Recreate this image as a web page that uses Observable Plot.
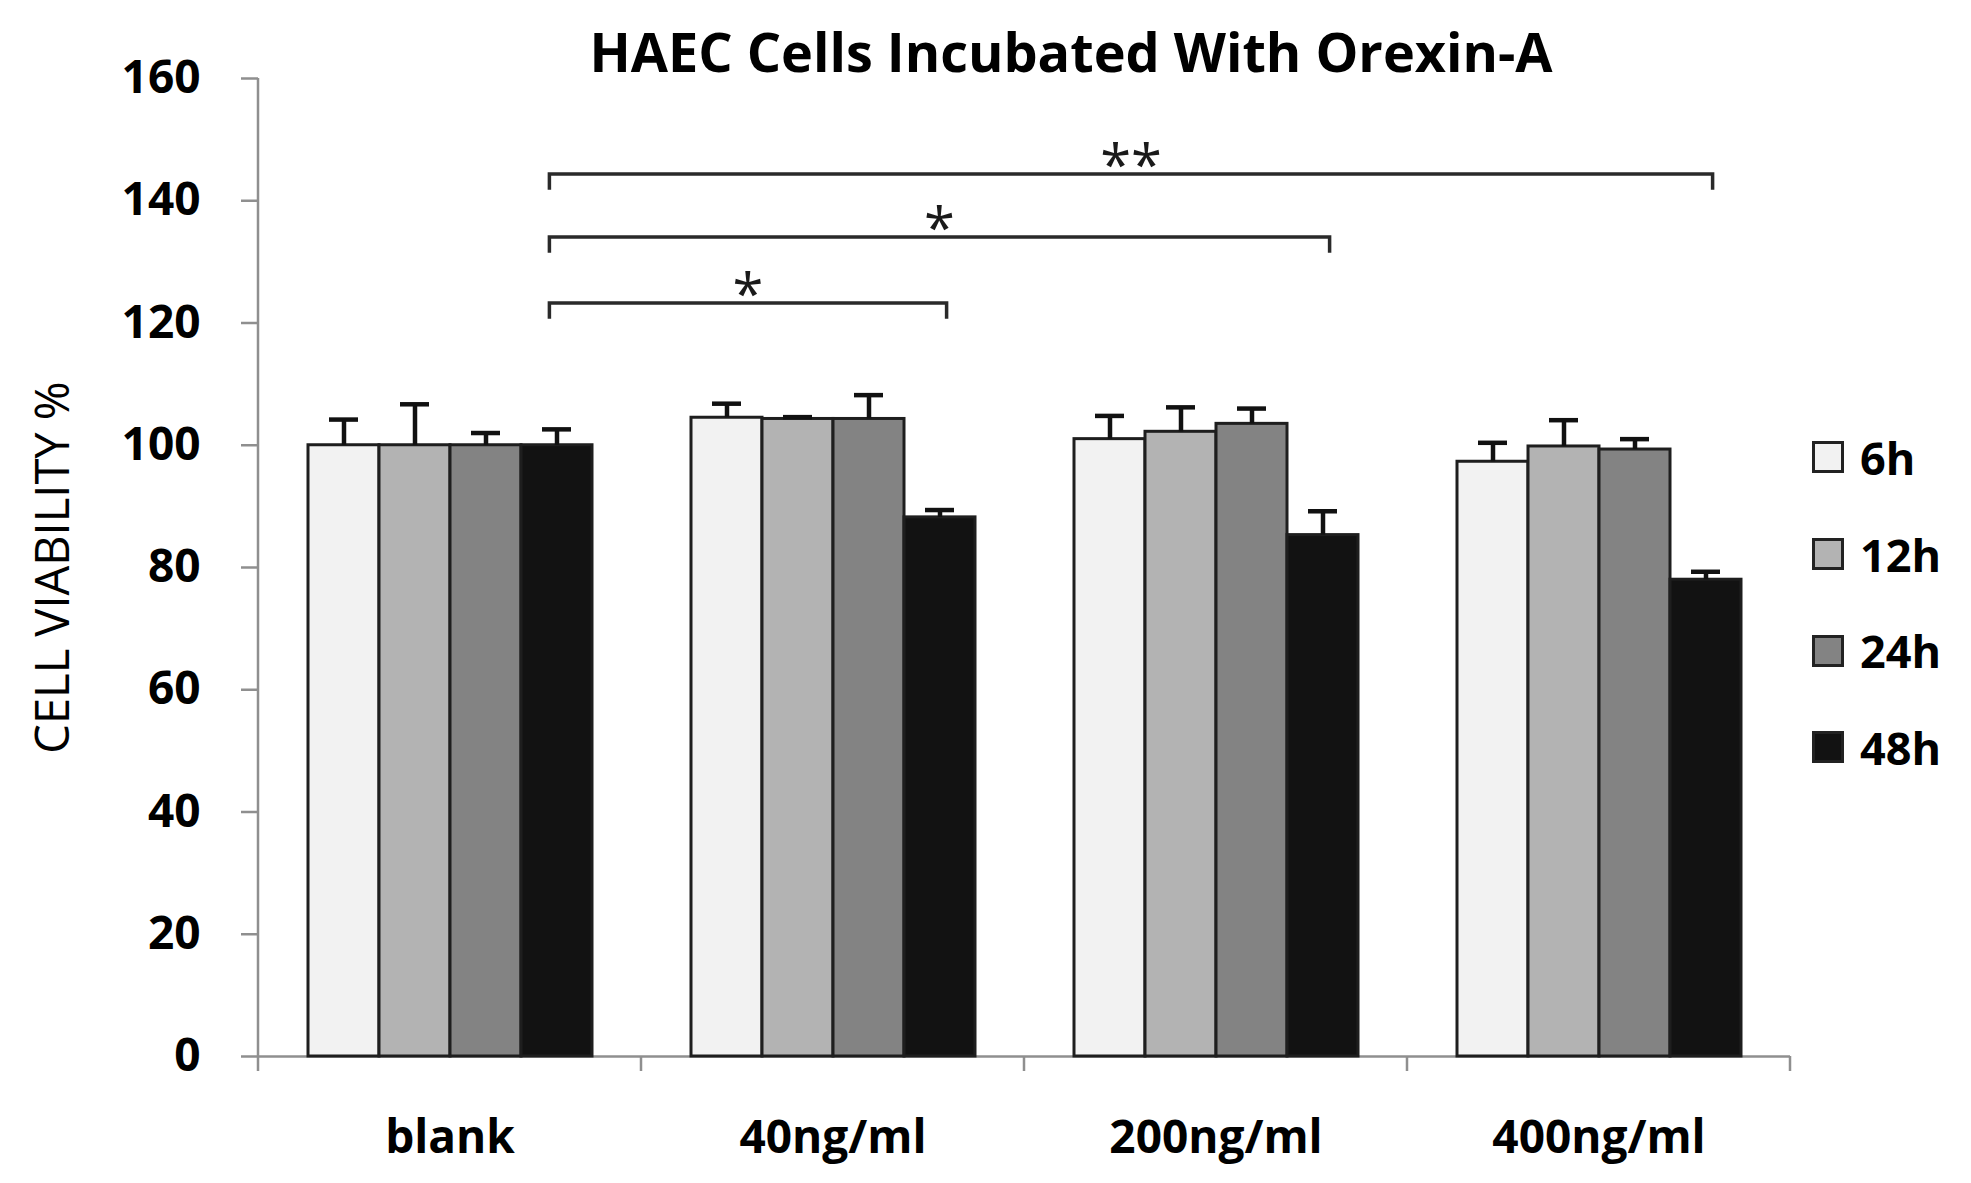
<!DOCTYPE html>
<html>
<head>
<meta charset="utf-8">
<script src="https://cdn.jsdelivr.net/npm/d3@7"></script>
<script src="https://cdn.jsdelivr.net/npm/@observablehq/plot@0.6"></script>
<style>
  body { margin: 0; background: #fff; font-family: "Open Sans", sans-serif; }
  #wrap { position: relative; width: 1971px; height: 1183px; overflow: hidden; background: #fff; }
  #chart { position: absolute; left: 0; top: 0; }
  #title { position: absolute; left: 1071px; top: 24px; transform: translateX(-50%); font-weight: 700; font-size: 54px; line-height: 54px; white-space: nowrap; color: #000; }
  #legend { position: absolute; left: 1812px; top: 409px; }
  .item { display: flex; align-items: center; height: 96.7px; }
  .sw { width: 26px; height: 26px; border: 3px solid #222; margin-right: 16px; box-sizing: content-box; }
  .lab { font-weight: 700; font-size: 45px; line-height: 45px; color: #000; }
</style>
</head>
<body>
<div id="wrap">
  <div id="chart"></div>
  <div id="title"></div>
  <div id="legend"></div>
</div>
<script>
// ---- data ----
const titleText = "HAEC Cells Incubated With Orexin-A";
const yLabel = "CELL VIABILITY %";
const categories = ["blank", "40ng/ml", "200ng/ml", "400ng/ml"];
const series = ["6h", "12h", "24h", "48h"];
const values6h  = [100, 104.5, 101.0, 97.3];
const values12h = [100, 104.3, 102.2, 99.8];
const values24h = [100, 104.3, 103.5, 99.3];
const values48h = [100, 88.2, 85.3, 78.0];
const err6h  = [4.2, 2.3, 3.8, 3.1];
const err12h = [6.7, 0.3, 4.0, 4.3];
const err24h = [2.0, 3.9, 2.5, 1.7];
const err48h = [2.6, 1.2, 3.9, 1.3];
const yTicks = [0, 20, 40, 60, 80, 100, 120, 140, 160];
const yDomain = [0, 160];
const bracketFrom = "blank";
const bracketSeries = "48h";
const bracketTargets = ["40ng/ml", "200ng/ml", "400ng/ml"];
const bracketLevels = [123.2, 134.0, 144.3];
const bracketDrop = 2.6;
const bracketLabels = ["*", "*", "**"];
const seriesColors = ["#f2f2f2", "#b3b3b3", "#838383", "#121212"];

// ---- styles ----
const axisGray = "#8f8f8f";
const inkColor = "#1e1e1e";

const valuesBySeries = [values6h, values12h, values24h, values48h];
const errBySeries = [err6h, err12h, err24h, err48h];
const data = categories.flatMap((c, i) => series.map((s, j) => ({
  category: c, series: s, value: valuesBySeries[j][i], err: errBySeries[j][i]
})));

// drawn once, in the first facet (whose offset is zero), using the plot's scales
let decorationsDrawn = false;
function decorations(index, scales, values, dimensions) {
  if (decorationsDrawn) return null;
  decorationsDrawn = true;
  const {fx, x, y} = scales;
  const {marginLeft} = dimensions;
  const bw = s => (typeof s.bandwidth === "function" ? s.bandwidth() : 0);
  const offset = fx(categories[0]) - marginLeft;
  const cx = (c, s) => fx(c) - marginLeft + x(s) + bw(x) / 2 - offset;
  const g = d3.create("svg:g");
  const y0 = y(yDomain[0]);
  // y axis line (continues slightly below zero like the reference)
  g.append("line")
    .attr("x1", fx(categories[0]) - offset).attr("x2", fx(categories[0]) - offset)
    .attr("y1", y(yDomain[1])).attr("y2", y0 + 15)
    .attr("stroke", axisGray).attr("stroke-width", 2.5);
  // boundary ticks between categories
  const edges = categories.map(c => fx(c) - offset).concat([fx(categories[categories.length - 1]) + bw(fx) - offset]);
  g.selectAll("line.edge").data(edges.slice(1)).join("line")
    .attr("class", "edge")
    .attr("x1", d => d).attr("x2", d => d)
    .attr("y1", y0).attr("y2", y0 + 15)
    .attr("stroke", axisGray).attr("stroke-width", 2.5);
  // significance brackets
  bracketTargets.forEach((t, k) => {
    const x1 = cx(bracketFrom, bracketSeries) - bw(x) * 0.1;
    const x2 = cx(t, bracketSeries) + bw(x) * 0.1;
    const yy = y(bracketLevels[k]);
    const yd = y(bracketLevels[k] - bracketDrop);
    g.append("path")
      .attr("d", `M${x1},${yd}V${yy}H${x2}V${yd}`)
      .attr("fill", "none").attr("stroke", "#2a2a2a").attr("stroke-width", 3.5);
    g.append("text")
      .attr("x", (x1 + x2) / 2).attr("y", yy)
      .attr("dy", "0.2em")
      .attr("text-anchor", "middle")
      .attr("font-family", "Open Sans")
      .attr("font-size", 56)
      .attr("fill", "#1a1a1a")
      .text(bracketLabels[k]);
  });
  return g.node();
}

const chart = Plot.plot({
  width: 1971,
  height: 1183,
  marginLeft: 256,
  marginRight: 180,
  marginTop: 78,
  marginBottom: 127,
  style: {fontFamily: "Open Sans", background: "transparent", color: "#000"},
  fx: {domain: categories, padding: 0, label: null},
  x: {domain: series, paddingInner: 0, paddingOuter: 0.68, axis: null},
  y: {domain: yDomain},
  color: {domain: series, range: seriesColors},
  marks: [
    Plot.axisY({ticks: yTicks, tickSize: 17, tickPadding: 41, fontSize: 46, fontWeight: "bold",
      stroke: axisGray, strokeWidth: 2.5, label: null}),
    Plot.axisY({ticks: [], tickSize: 0, label: yLabel, labelAnchor: "center", labelArrow: "none",
      labelOffset: 223, fontSize: 47}),
    Plot.axisFx({anchor: "bottom", tickSize: 0, tickPadding: 64, fontSize: 46, fontWeight: "bold", label: null}),
    Plot.ruleY([0], {stroke: axisGray, strokeWidth: 2.5}),
    Plot.barY(data, {fx: "category", x: "series", y: "value", fill: "series", stroke: inkColor, strokeWidth: 3}),
    Plot.ruleX(data, {fx: "category", x: "series", y1: "value", y2: d => d.value + d.err, stroke: "#111", strokeWidth: 4.5}),
    Plot.tickY(data, {fx: "category", x: "series", y: d => d.value + d.err, stroke: "#111", strokeWidth: 4.5,
      insetLeft: 21, insetRight: 21}),
    decorations
  ]
});
document.getElementById("chart").appendChild(chart);

document.getElementById("title").textContent = titleText;
const legend = d3.select("#legend");
series.forEach((s, j) => {
  const item = legend.append("div").attr("class", "item");
  item.append("div").attr("class", "sw").style("background", seriesColors[j]);
  item.append("div").attr("class", "lab").text(s);
});
</script>
</body>
</html>
